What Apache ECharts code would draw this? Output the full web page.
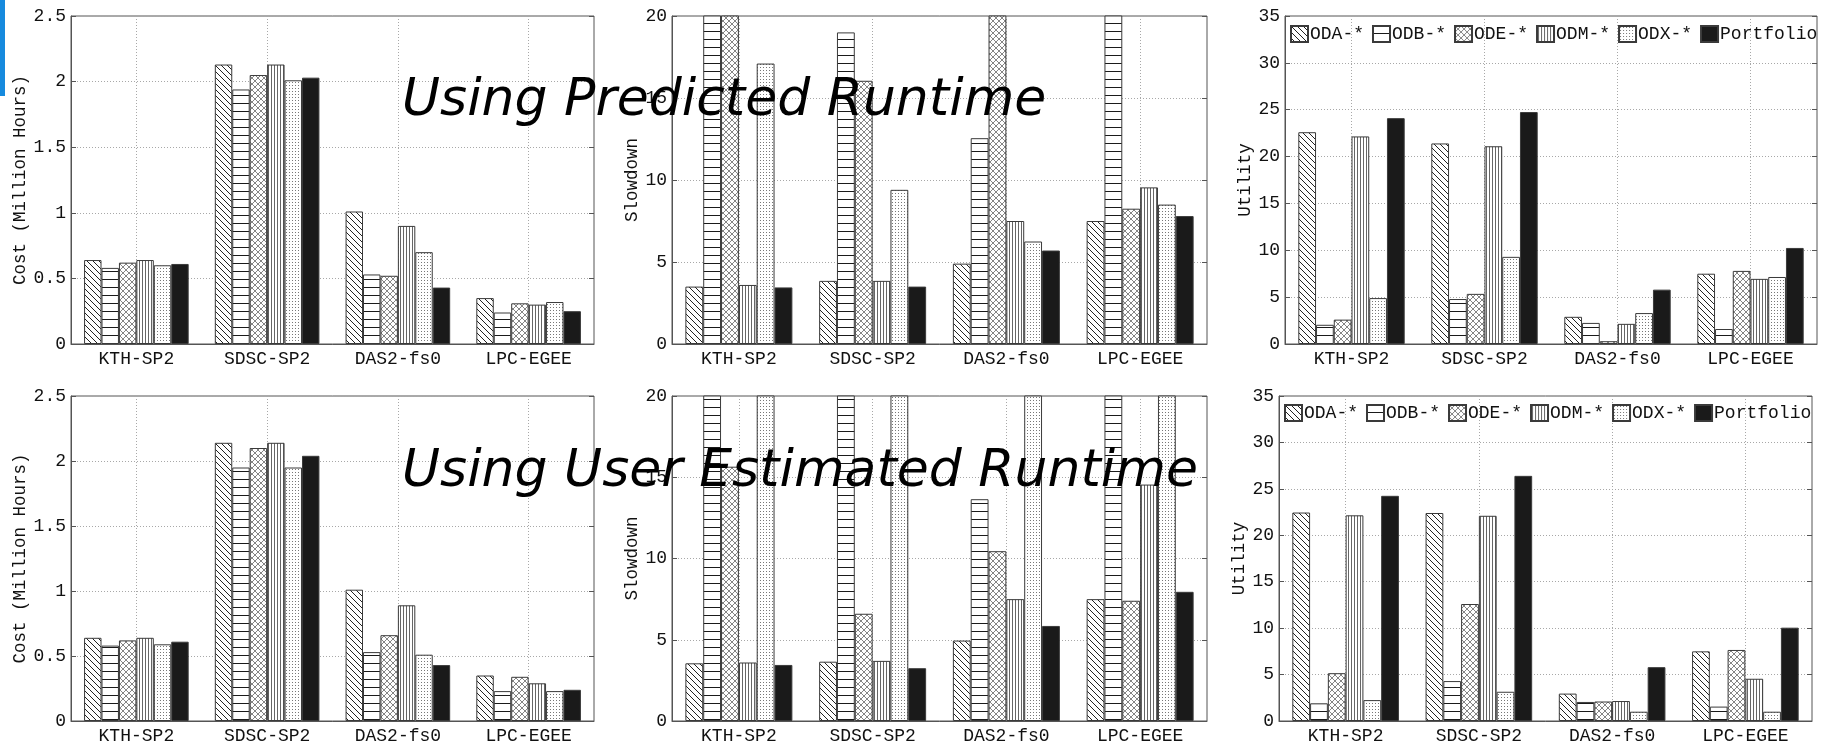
<!DOCTYPE html>
<html>
<head>
<meta charset="utf-8">
<script src="https://cdn.jsdelivr.net/npm/echarts@6/dist/echarts.min.js"></script>
<style>
  html, body { margin: 0; padding: 0; background: #fff; }
  #chart { width: 1829px; height: 745px; }
</style>
</head>
<body>
<div id="chart"></div>
<script>
const categories = ['KTH-SP2', 'SDSC-SP2', 'DAS2-fs0', 'LPC-EGEE']
const seriesNames = ['ODA-*', 'ODB-*', 'ODE-*', 'ODM-*', 'ODX-*', 'Portfolio']

// values of 22 are bars that run off the top of the slowdown axis (clipped at 20)

// cost, predicted runtime
const costPredODA = [0.64, 2.13, 1.01, 0.35]
const costPredODB = [0.58, 1.94, 0.53, 0.24]
const costPredODE = [0.62, 2.05, 0.52, 0.31]
const costPredODM = [0.64, 2.13, 0.90, 0.30]
const costPredODX = [0.60, 2.01, 0.70, 0.32]
const costPredPort = [0.61, 2.03, 0.43, 0.25]

// slowdown, predicted runtime
const slowPredODA = [3.5, 3.85, 4.9, 7.5]
const slowPredODB = [22, 19.0, 12.55, 22]
const slowPredODE = [22, 16.05, 22, 8.25]
const slowPredODM = [3.6, 3.85, 7.5, 9.55]
const slowPredODX = [17.1, 9.4, 6.25, 8.5]
const slowPredPort = [3.45, 3.5, 5.7, 7.8]

// utility, predicted runtime
const utilPredODA = [22.6, 21.4, 2.9, 7.5]
const utilPredODB = [2.05, 4.8, 2.25, 1.6]
const utilPredODE = [2.6, 5.35, 0.3, 7.8]
const utilPredODM = [22.15, 21.1, 2.15, 6.95]
const utilPredODX = [4.9, 9.3, 3.3, 7.15]
const utilPredPort = [24.1, 24.75, 5.8, 10.25]

// cost, user estimated runtime
const costUserODA = [0.64, 2.14, 1.01, 0.35]
const costUserODB = [0.58, 1.95, 0.53, 0.23]
const costUserODE = [0.62, 2.10, 0.66, 0.34]
const costUserODM = [0.64, 2.14, 0.89, 0.29]
const costUserODX = [0.59, 1.95, 0.51, 0.23]
const costUserPort = [0.61, 2.04, 0.43, 0.24]

// slowdown, user estimated runtime
const slowUserODA = [3.55, 3.65, 4.95, 7.5]
const slowUserODB = [22, 22, 13.65, 22]
const slowUserODE = [15.65, 6.6, 10.45, 7.4]
const slowUserODM = [3.6, 3.7, 7.5, 14.55]
const slowUserODX = [22, 22, 22, 22]
const slowUserPort = [3.45, 3.25, 5.85, 7.95]

// utility, user estimated runtime
const utilUserODA = [22.45, 22.4, 2.95, 7.5]
const utilUserODB = [1.9, 4.3, 2.05, 1.55]
const utilUserODE = [5.15, 12.6, 2.1, 7.65]
const utilUserODM = [22.15, 22.1, 2.15, 4.55]
const utilUserODX = [2.25, 3.15, 1.0, 1.0]
const utilUserPort = [24.25, 26.4, 5.8, 10.05]

const costTicks = { max: 2.5, interval: 0.5 }
const slowTicks = { max: 20, interval: 5 }
const utilTicks = { max: 35, interval: 5 }

const FONT = '"Liberation Mono", monospace'
const AXIS_COLOR = '#555'

// 填充图案
function makePattern (w, h, draw) {
  const c = document.createElement('canvas')
  c.width = w
  c.height = h
  const ctx = c.getContext('2d')
  ctx.fillStyle = '#fff'
  ctx.fillRect(0, 0, w, h)
  draw(ctx)
  return { image: c, repeat: 'repeat' }
}

const patterns = [
  makePattern(6, 6, ctx => {
    ctx.strokeStyle = '#222'
    ctx.lineWidth = 1
    ctx.beginPath()
    ctx.moveTo(-1, -1); ctx.lineTo(7, 7)
    ctx.moveTo(-1, 5); ctx.lineTo(1, 7)
    ctx.moveTo(5, -1); ctx.lineTo(7, 1)
    ctx.stroke()
  }),
  makePattern(8, 8, ctx => {
    ctx.fillStyle = '#1a1a1a'
    ctx.fillRect(0, 7, 8, 1)
  }),
  makePattern(6, 6, ctx => {
    ctx.strokeStyle = '#666'
    ctx.lineWidth = 0.8
    ctx.beginPath()
    ctx.moveTo(-1, -1); ctx.lineTo(7, 7)
    ctx.moveTo(-1, 7); ctx.lineTo(7, -1)
    ctx.stroke()
  }),
  makePattern(3, 8, ctx => {
    ctx.fillStyle = '#666'
    ctx.fillRect(1, 0, 1, 8)
  }),
  makePattern(3, 3, ctx => {
    ctx.fillStyle = '#777'
    ctx.fillRect(1, 1, 1, 1)
  }),
  '#1a1a1a'
]

const panels = [
  { grid: { left: 71, top: 16, width: 523, height: 328 }, ticks: costTicks, name: 'Cost (Million Hours)', nameGap: 38,
    data: [costPredODA, costPredODB, costPredODE, costPredODM, costPredODX, costPredPort] },
  { grid: { left: 672, top: 16, width: 535, height: 328 }, ticks: slowTicks, name: 'Slowdown', nameGap: 27,
    data: [slowPredODA, slowPredODB, slowPredODE, slowPredODM, slowPredODX, slowPredPort] },
  { grid: { left: 1285, top: 16, width: 532, height: 328 }, ticks: utilTicks, name: 'Utility', nameGap: 30,
    data: [utilPredODA, utilPredODB, utilPredODE, utilPredODM, utilPredODX, utilPredPort] },
  { grid: { left: 71, top: 396, width: 523, height: 327 }, ticks: costTicks, name: 'Cost (Million Hours)', nameGap: 38,
    data: [costUserODA, costUserODB, costUserODE, costUserODM, costUserODX, costUserPort] },
  { grid: { left: 672, top: 396, width: 535, height: 327 }, ticks: slowTicks, name: 'Slowdown', nameGap: 27,
    data: [slowUserODA, slowUserODB, slowUserODE, slowUserODM, slowUserODX, slowUserPort] },
  { grid: { left: 1279, top: 396, width: 533, height: 327 }, ticks: utilTicks, name: 'Utility', nameGap: 30,
    data: [utilUserODA, utilUserODB, utilUserODE, utilUserODM, utilUserODX, utilUserPort] }
]

const grids = []
const xAxes = []
const yAxes = []
const series = []

panels.forEach((p, i) => {
  grids.push({ ...p.grid, show: true, borderColor: AXIS_COLOR, borderWidth: 1, backgroundColor: 'transparent' })
  xAxes.push({
    type: 'category',
    gridIndex: i,
    data: categories,
    axisLine: { show: true, lineStyle: { color: AXIS_COLOR } },
    axisTick: { show: false, alignWithLabel: true },
    axisLabel: { fontFamily: FONT, fontSize: 18, color: '#111', margin: 6 },
    splitLine: { show: true, alignWithLabel: true, lineStyle: { color: '#a8a8a8', type: [1, 2] } }
  })
  yAxes.push({
    type: 'value',
    gridIndex: i,
    min: 0,
    max: p.ticks.max,
    interval: p.ticks.interval,
    name: p.name,
    nameLocation: 'middle',
    nameGap: p.nameGap,
    nameTextStyle: { fontFamily: FONT, fontSize: 17.5, color: '#111' },
    axisLine: { show: true, lineStyle: { color: AXIS_COLOR } },
    axisTick: { show: true, inside: true, length: 5, lineStyle: { color: AXIS_COLOR } },
    axisLabel: { fontFamily: FONT, fontSize: 18, color: '#111', margin: 5 },
    splitLine: { show: true, lineStyle: { color: '#a8a8a8', type: [1, 2] } }
  })
  yAxes.push({
    type: 'value',
    gridIndex: i,
    position: 'right',
    min: 0,
    max: p.ticks.max,
    interval: p.ticks.interval,
    axisLine: { show: false },
    axisTick: { show: true, inside: true, length: 5, lineStyle: { color: AXIS_COLOR } },
    axisLabel: { show: false },
    splitLine: { show: false }
  })
  p.data.forEach((values, s) => {
    series.push({
      type: 'bar',
      name: seriesNames[s],
      xAxisIndex: i,
      yAxisIndex: i * 2,
      data: values,
      barGap: '0%',
      barCategoryGap: '20%',
      clip: true,
      itemStyle: { color: patterns[s], borderColor: '#3a3a3a', borderWidth: 1 },
      emphasis: { disabled: true }
    })
  })
})

const legendBase = {
  data: seriesNames,
  icon: 'rect',
  itemWidth: 17,
  itemHeight: 16,
  itemGap: 8,
  padding: 0,
  textStyle: { fontFamily: FONT, fontSize: 18, color: '#111', padding: [0, 0, 0, -3] },
  selectedMode: false
}

const chart = echarts.init(document.getElementById('chart'), null, { renderer: 'canvas' })

chart.setOption({
  backgroundColor: '#fff',
  animation: false,
  grid: grids,
  xAxis: xAxes,
  yAxis: yAxes,
  series: series,
  legend: [
    { ...legendBase, left: 1290, top: 25 },
    { ...legendBase, left: 1284, top: 404 }
  ],
  graphic: [
    { type: 'rect', left: 0, top: 0, shape: { width: 5, height: 96 }, style: { fill: '#168ade' }, z: 100 },
    { type: 'text', z: 100, style: { x: 402, y: 101, text: 'Using Predicted Runtime', verticalAlign: 'middle',
        font: 'italic 52px "DejaVu Sans"', fill: '#000' } },
    { type: 'text', z: 100, style: { x: 402, y: 472, text: 'Using User Estimated Runtime', verticalAlign: 'middle',
        font: 'italic 52px "DejaVu Sans"', fill: '#000' } }
  ]
})
</script>
</body>
</html>
